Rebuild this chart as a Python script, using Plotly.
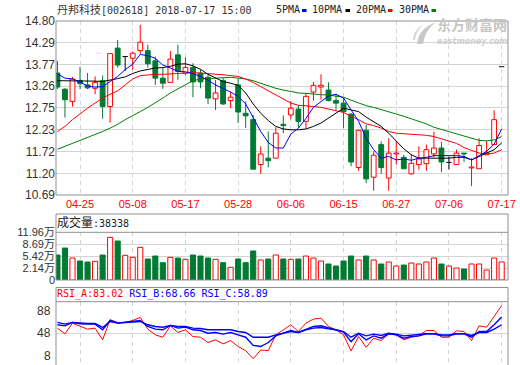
import plotly.graph_objects as go

# ---------------- data ----------------
dates = ["04-20", "04-23", "04-24", "04-25", "04-26", "04-27", "05-02", "05-03", "05-04", "05-07",
         "05-08", "05-09", "05-10", "05-11", "05-14", "05-15", "05-16", "05-17", "05-18", "05-21",
         "05-22", "05-23", "05-24", "05-25", "05-28", "05-29", "05-30", "05-31", "06-01", "06-04",
         "06-05", "06-06", "06-07", "06-08", "06-11", "06-12", "06-13", "06-14", "06-15", "06-19",
         "06-20", "06-21", "06-22", "06-25", "06-26", "06-27", "06-28", "06-29", "07-02", "07-03",
         "07-04", "07-05", "07-06", "07-09", "07-10", "07-11", "07-12", "07-13", "07-16", "07-17"]
tick_dates = ["04-25", "05-08", "05-17", "05-28", "06-06", "06-15", "06-27", "07-06", "07-17"]

opens = [13.57, 13.19, 12.90, 13.39, 13.29, 13.21, 13.39, 12.78, 14.16, 13.96,
         13.92, 14.10, 14.10, 13.86, 13.45, 13.35, 14.00, 13.57, 13.70, 13.57,
         13.47, 12.96, 13.39, 12.92, 13.29, 12.62, 12.47, 11.41, 11.56, 11.56,
         12.36, 12.58, 12.72, 12.43, 13.12, 13.24, 13.17, 12.92, 12.86, 12.60,
         11.34, 12.22, 11.11, 11.88, 11.09, 11.66, 11.58, 11.19, 11.41, 11.43,
         11.66, 11.80, 11.46, 11.41, 11.68, 11.33, 11.31, 11.64, 11.88, 13.72]
highs = [13.86, 13.21, 13.48, 13.72, 13.57, 13.49, 13.51, 14.03, 14.35, 13.96,
         14.08, 14.71, 14.24, 13.96, 13.69, 14.09, 14.24, 13.94, 13.80, 13.65,
         13.53, 13.41, 13.45, 13.12, 13.43, 12.90, 12.58, 11.84, 12.19, 12.29,
         12.57, 12.91, 12.82, 13.10, 13.36, 13.54, 13.35, 13.06, 12.98, 12.62,
         12.23, 12.35, 11.72, 11.96, 12.03, 11.96, 11.64, 11.64, 11.84, 11.88,
         12.19, 11.94, 11.60, 11.76, 11.68, 11.56, 12.03, 11.97, 12.69, 13.72]
lows = [13.19, 12.52, 12.78, 13.19, 13.19, 13.07, 12.49, 12.40, 13.70, 13.62,
        13.65, 14.02, 13.70, 13.29, 13.20, 13.35, 13.41, 13.51, 13.00, 13.21,
        12.84, 12.70, 12.82, 12.74, 12.39, 12.27, 11.29, 11.19, 11.34, 11.56,
        12.15, 12.48, 12.27, 12.27, 12.92, 12.94, 12.90, 12.70, 12.27, 11.37,
        11.26, 10.97, 10.79, 11.19, 10.79, 11.41, 11.31, 11.17, 11.29, 11.26,
        11.58, 11.23, 11.29, 11.41, 11.47, 10.90, 11.31, 11.64, 11.88, 13.72]
closes = [13.24, 12.94, 13.43, 13.32, 13.22, 13.35, 12.78, 14.03, 13.76, 13.96,
          14.04, 14.30, 13.79, 13.45, 13.33, 13.90, 13.61, 13.70, 13.36, 13.36,
          12.98, 13.10, 12.84, 13.00, 12.65, 12.56, 11.30, 11.66, 11.50, 12.15,
          12.33, 12.74, 12.43, 13.02, 13.28, 13.28, 12.92, 12.86, 12.66, 11.47,
          12.22, 11.07, 11.63, 11.34, 11.68, 11.68, 11.31, 11.44, 11.54, 11.76,
          11.80, 11.47, 11.46, 11.68, 11.66, 11.35, 11.86, 11.68, 12.47, 13.72]

ma5 = [13.55, 13.45, 13.43, 13.36, 13.26, 13.24, 13.25, 13.37, 13.49, 13.65,
       13.78, 14.01, 13.98, 13.92, 13.76, 13.69, 13.61, 13.60, 13.56, 13.49,
       13.40, 13.29, 13.21, 13.12, 13.02, 12.84, 12.52, 12.19, 11.93, 11.80,
       11.80, 12.13, 12.27, 12.50, 12.76, 12.90, 13.03, 13.07, 12.98, 12.70,
       12.43, 12.03, 11.76, 11.56, 11.60, 11.52, 11.54, 11.51, 11.56, 11.58,
       11.62, 11.62, 11.62, 11.62, 11.60, 11.52, 11.62, 11.72, 11.89, 12.25]
ma10 = [13.39, 13.39, 13.39, 13.39, 13.38, 13.38, 13.37, 13.40, 13.44, 13.48,
        13.56, 13.62, 13.66, 13.69, 13.70, 13.73, 13.78, 13.79, 13.74, 13.66,
        13.54, 13.45, 13.37, 13.33, 13.28, 13.10, 12.84, 12.62, 12.45, 12.31,
        12.25, 12.23, 12.23, 12.25, 12.31, 12.39, 12.51, 12.64, 12.74, 12.70,
        12.66, 12.53, 12.43, 12.31, 12.15, 11.96, 11.78, 11.64, 11.56, 11.56,
        11.56, 11.56, 11.56, 11.58, 11.58, 11.52, 11.60, 11.68, 11.76, 11.92]
ma20 = [12.19, 12.31, 12.47, 12.61, 12.74, 12.86, 12.98, 13.07, 13.15, 13.29,
        13.43, 13.51, 13.53, 13.54, 13.54, 13.55, 13.55, 13.57, 13.58, 13.57,
        13.56, 13.54, 13.53, 13.51, 13.49, 13.43, 13.35, 13.25, 13.15, 13.05,
        12.95, 12.86, 12.81, 12.80, 12.78, 12.76, 12.72, 12.68, 12.64, 12.55,
        12.47, 12.37, 12.33, 12.27, 12.19, 12.15, 12.14, 12.13, 12.11, 12.10,
        12.07, 12.02, 11.97, 11.91, 11.81, 11.74, 11.68, 11.66, 11.68, 11.76]
ma30 = [11.77, 11.84, 11.91, 11.98, 12.05, 12.11, 12.19, 12.27, 12.36, 12.47,
        12.56, 12.66, 12.76, 12.86, 12.98, 13.10, 13.20, 13.31, 13.39, 13.43,
        13.44, 13.46, 13.47, 13.47, 13.45, 13.43, 13.39, 13.33, 13.27, 13.21,
        13.17, 13.13, 13.10, 13.09, 13.07, 13.06, 13.05, 13.03, 13.00, 12.93,
        12.86, 12.80, 12.76, 12.71, 12.65, 12.60, 12.55, 12.49, 12.43, 12.37,
        12.29, 12.24, 12.19, 12.14, 12.08, 12.03, 11.98, 11.97, 11.99, 12.07]

volume_wan = [5.73, 7.65, 4.90, 4.08, 3.81, 3.99, 5.73, 10.58, 9.57, 5.64,
              5.09, 7.83, 4.63, 5.45, 3.62, 5.09, 4.90, 4.54, 5.73, 5.45,
              4.90, 4.54, 3.62, 2.34, 4.63, 3.62, 6.83, 4.36, 4.63, 5.73,
              4.63, 4.54, 4.63, 5.45, 4.90, 4.08, 3.26, 2.71, 4.08, 5.45,
              4.36, 5.45, 4.36, 3.26, 3.81, 2.71, 2.98, 3.53, 3.26, 3.81,
              4.90, 3.26, 2.71, 2.16, 1.89, 3.26, 3.26, 1.61, 4.90, 3.83]
last_volume = 38338

rsi_a = [54.6, 47.4, 60.9, 56.7, 53.3, 54.6, 39.8, 65.2, 61.8, 61.8,
         64.3, 68.1, 53.3, 46.1, 43.1, 57.5, 49.1, 52.5, 44.0, 43.1,
         36.4, 39.8, 34.7, 38.9, 31.3, 26.2, 16.0, 27.0, 26.2, 46.1,
         52.5, 58.8, 50.3, 60.9, 66.0, 67.3, 56.7, 52.5, 46.1, 25.8,
         44.0, 30.4, 41.9, 38.9, 47.4, 46.1, 39.8, 43.1, 44.8, 51.6,
         51.6, 43.1, 43.1, 51.2, 50.3, 38.9, 57.5, 55.8, 69.4, 83.02]
rsi_b = [58.8, 57.5, 61.8, 60.1, 59.7, 59.7, 52.5, 64.3, 60.9, 61.8,
         63.0, 64.3, 56.7, 53.3, 52.5, 58.0, 54.6, 55.8, 52.5, 51.6,
         48.2, 49.1, 47.0, 49.1, 46.1, 43.1, 32.8, 31.3, 36.4, 44.8,
         48.2, 51.6, 49.1, 53.3, 56.7, 57.5, 54.6, 52.5, 49.5, 37.6,
         47.4, 39.8, 44.8, 41.9, 47.4, 46.1, 41.9, 44.0, 44.8, 47.4,
         47.4, 44.8, 44.8, 47.4, 47.4, 43.1, 50.3, 50.3, 58.8, 68.66]
rsi_c = [61.8, 59.7, 61.8, 60.9, 60.5, 60.5, 55.4, 63.0, 60.9, 61.8,
         62.2, 63.0, 58.8, 56.7, 55.8, 58.0, 56.7, 56.7, 54.6, 54.2,
         52.5, 52.5, 51.6, 52.5, 50.3, 49.1, 43.1, 43.1, 43.1, 46.1,
         48.2, 50.3, 49.1, 52.5, 54.6, 55.4, 53.7, 52.5, 50.3, 43.1,
         48.2, 44.8, 47.0, 45.3, 48.2, 47.0, 44.8, 45.7, 46.1, 47.4,
         47.4, 46.1, 46.1, 47.4, 47.4, 45.3, 49.1, 49.1, 53.3, 58.89]

price_ticks = [10.69, 11.20, 11.72, 12.23, 12.75, 13.26, 13.77, 14.29, 14.80]
vol_ticks = [2.14, 5.42, 8.69, 11.96]
rsi_ticks = [8, 48, 88]

stock_title = "丹邦科技[002618] 2018-07-17 15:00"
ma_names = ["5PMA", "10PMA", "20PMA", "30PMA"]

# ---------------- style ----------------
RED = "#ff0000"
GREEN = "#007a33"
BLUE = "#0000ff"
BLACK = "#000000"
MAGREEN = "#008000"
GRID = "#d4d4d4"
BORDER = "#8f8f8f"
TXT = "#333333"

W, H = 520, 365
L, R, T, B = 56, 12, 21, 0
PW, PH = W - L - R, H - T - B


def px_x(p):
    return (p - L) / PW


def px_y(p):
    return (H - B - p) / PH


BODY_W = 0.64
VOL_W = 0.68
VOL_MIN = -1.13
X_RANGE = [-0.19, 59.84]

idx = list(range(len(dates)))
tickvals = [dates.index(d) for d in tick_dates]

fig = go.Figure()

# ---- candle bodies ----
bx, bb, bh, bfill, bline = [], [], [], [], []
for i, (o, c) in enumerate(zip(opens, closes)):
    if c == o:
        continue
    bx.append(i)
    bb.append(min(o, c))
    bh.append(abs(c - o))
    up = c > o
    bfill.append("#ffffff" if up else GREEN)
    bline.append(RED if up else GREEN)
fig.add_trace(go.Bar(x=bx, y=bh, base=bb, width=BODY_W,
                     marker=dict(color=bfill, line=dict(color=bline, width=1)),
                     xaxis="x", yaxis="y", hoverinfo="skip"))

# ---- wicks ----
wick = {"up": ([], []), "down": ([], []), "flat": ([], [])}
for i, (o, h, l, c) in enumerate(zip(opens, highs, lows, closes)):
    key = "up" if c > o else ("down" if c < o else "flat")
    xs, ys = wick[key]
    top, bot = max(o, c), min(o, c)
    if key == "flat":
        xs += [i - 0.35, i + 0.35, None]
        ys += [o, o, None]
        if h > l:
            xs += [i, i, None]
            ys += [l, h, None]
        continue
    if h > top:
        xs += [i, i, None]
        ys += [top, h, None]
    if l < bot:
        xs += [i, i, None]
        ys += [l, bot, None]
for key, col in (("up", RED), ("down", GREEN), ("flat", BLACK)):
    xs, ys = wick[key]
    fig.add_trace(go.Scatter(x=xs, y=ys, mode="lines", line=dict(color=col, width=1),
                             xaxis="x", yaxis="y", hoverinfo="skip"))

# ---- moving averages ----
for vals, col in ((ma30, MAGREEN), (ma20, RED), (ma10, BLACK), (ma5, BLUE)):
    fig.add_trace(go.Scatter(x=idx, y=vals, mode="lines", line=dict(color=col, width=1),
                             xaxis="x", yaxis="y", hoverinfo="skip"))

# ---- volume ----
vfill, vline = [], []
for o, c in zip(opens, closes):
    up = c >= o
    vfill.append("#ffffff" if up else GREEN)
    vline.append(RED if up else GREEN)
fig.add_trace(go.Bar(x=idx, y=[v - VOL_MIN for v in volume_wan], base=VOL_MIN, width=VOL_W,
                     marker=dict(color=vfill, line=dict(color=vline, width=1)),
                     xaxis="x2", yaxis="y2", hoverinfo="skip"))

# ---- RSI ----
fig.add_trace(go.Scatter(x=idx, y=rsi_a, mode="lines", line=dict(color=RED, width=1),
                         xaxis="x3", yaxis="y3", hoverinfo="skip"))
for vals in (rsi_c, rsi_b):
    fig.add_trace(go.Scatter(x=idx, y=vals, mode="lines", line=dict(color=BLUE, width=1.4),
                             xaxis="x3", yaxis="y3", hoverinfo="skip"))

# ---------------- axes ----------------
xcommon = dict(range=X_RANGE, tickvals=tickvals, ticktext=tick_dates, showgrid=True,
               gridcolor=GRID, griddash="4px,4px", gridwidth=1, zeroline=False,
               showline=False, ticks="", fixedrange=True, automargin=False)
ycommon = dict(showgrid=True, gridcolor=GRID, gridwidth=1, zeroline=False, showline=False,
               ticks="", fixedrange=True, automargin=False)

dom_price = [px_y(195), 1]
dom_vol = [px_y(280), px_y(232.3)]
dom_rsi = [0, px_y(301.7)]

fig.update_layout(
    width=W, height=H, autosize=False,
    margin=dict(l=L, r=R, t=T, b=B, pad=0, autoexpand=False),
    paper_bgcolor="#ffffff", plot_bgcolor="#ffffff",
    showlegend=False, barmode="overlay",
    xaxis=dict(**xcommon, anchor="y", domain=[0, 1], showticklabels=True,
               ticklabeloverflow="allow", ticklabelstandoff=1,
               tickfont=dict(family="Liberation Sans", size=11, color=RED)),
    yaxis=dict(**ycommon, domain=dom_price, anchor="x", range=[price_ticks[0], price_ticks[-1]],
               tickvals=price_ticks, ticktext=["%.2f" % v for v in price_ticks],
               tickfont=dict(family="Liberation Sans", size=12, color=TXT)),
    xaxis2=dict(**xcommon, anchor="y2", domain=[0, 1], matches="x", showticklabels=False),
    yaxis2=dict(**ycommon, domain=dom_vol, anchor="x2", range=[VOL_MIN, vol_ticks[-1]],
                tickvals=[VOL_MIN] + vol_ticks,
                ticktext=["0"] + ["%.2f万" % v for v in vol_ticks],
                tickfont=dict(family="Liberation Sans, Noto Sans CJK SC", size=11, color=TXT)),
    xaxis3=dict(**xcommon, anchor="y3", domain=[0, 1], matches="x", showticklabels=False),
    yaxis3=dict(**ycommon, domain=dom_rsi, anchor="x3", range=[rsi_ticks[0], rsi_ticks[-1]],
                tickvals=rsi_ticks, showticklabels=False),
)

# ---------------- panel frames ----------------
shapes = []


def box(y0, y1):
    shapes.append(dict(type="rect", xref="paper", yref="paper", x0=0, x1=1, y0=y0, y1=y1,
                       line=dict(color=BORDER, width=1), fillcolor="rgba(0,0,0,0)", layer="above"))


def hline(y):
    shapes.append(dict(type="line", xref="paper", yref="paper", x0=0, x1=1, y0=y, y1=y,
                       line=dict(color=BORDER, width=1), layer="above"))


box(px_y(195), 1)
box(px_y(280), px_y(214))
hline(px_y(232.3))
box(px_y(366), px_y(287.5))
hline(px_y(301.7))

# legend marks
for x0, col in ((302, BLUE), (345.5, BLACK), (388, RED), (431.5, MAGREEN)):
    shapes.append(dict(type="rect", xref="paper", yref="paper",
                       x0=px_x(x0), x1=px_x(x0 + 4.5), y0=px_y(12), y1=px_y(9),
                       line=dict(width=0), fillcolor=col, layer="above"))


# watermark swoosh logo
def pth(pts):
    s = "M %.4f,%.4f " % (px_x(pts[0][0]), px_y(pts[0][1]))
    for a, b, c, d in pts[1:]:
        s += "Q %.4f,%.4f %.4f,%.4f " % (px_x(a), px_y(b), px_x(c), px_y(d))
    return s + "Z"


shapes.append(dict(type="path", xref="paper", yref="paper",
                   path=pth([(417, 44), (418, 29, 436, 22), (425, 30, 423, 44)]),
                   line=dict(width=0), fillcolor="#c9c9c9", layer="above"))
shapes.append(dict(type="path", xref="paper", yref="paper",
                   path=pth([(413, 40), (413, 30, 424, 24), (416, 31, 415, 40)]),
                   line=dict(width=0), fillcolor="#d6d6d6", layer="above"))
fig.update_layout(shapes=shapes)

# ---------------- texts ----------------
MONO = "DejaVu Sans Mono, Noto Sans CJK SC"
anns = []


def text(x, y, s, size=10, color=TXT, family=MONO, xanchor="left", yanchor="middle", **kw):
    anns.append(dict(x=px_x(x), y=px_y(y), xref="paper", yref="paper", text=s, showarrow=False,
                     xanchor=xanchor, yanchor=yanchor, font=dict(family=family, size=size, color=color),
                     borderpad=0, **kw))


cjk, rest = stock_title[:4], stock_title[4:]
text(56, 10, '<span style="font-size:11px">%s</span>%s' % (cjk, rest))
for x, name in zip((275, 311, 355, 398), ma_names):
    text(x, 10, name, color="#222222")
text(56, 223, '<span style="font-size:12px">成交量</span>:%d' % last_volume, color="#222222")
text(56, 294, 'RSI_A:%.2f <span style="color:%s">RSI_B:%.2f RSI_C:%.2f</span>'
     % (rsi_a[-1], BLUE, rsi_b[-1], rsi_c[-1]), color=RED)

# RSI axis labels (drawn inside the panel edges, as in the original)
for v, shift in ((88, -9), (48, 0), (8, 9)):
    anns.append(dict(x=0, y=v, xref="paper", yref="y3", text=str(v), showarrow=False,
                     xanchor="right", yanchor="middle", xshift=-3, yshift=shift,
                     font=dict(family="Liberation Sans", size=12, color=TXT)))

# watermark
text(508, 35, "<b>东方财富网</b>", size=14, color="#c6c6c6", family="Noto Sans CJK SC",
     xanchor="right", yanchor="bottom")
text(508, 36, "<b><i>eastmoney.com</i></b>", size=8, color="#cfcfcf", family="DejaVu Sans",
     xanchor="right", yanchor="top")

fig.update_layout(annotations=anns)

fig.write_html("out.html", include_plotlyjs=True,
               config={"displayModeBar": False, "staticPlot": True, "responsive": False},
               post_script="document.body.style.margin='0';document.body.style.padding='0';")
